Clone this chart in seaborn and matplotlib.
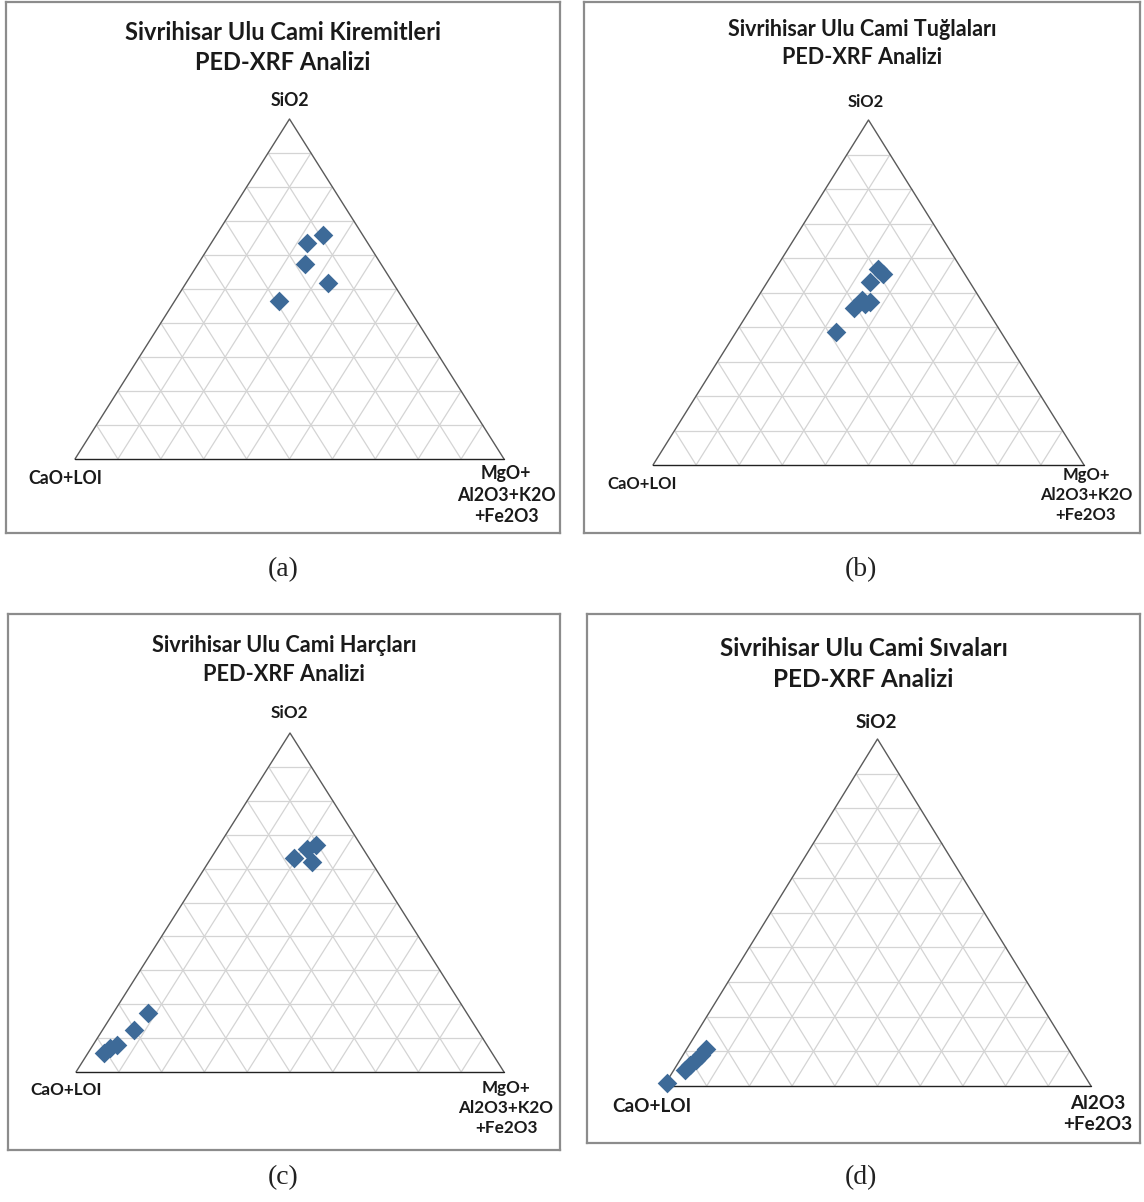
import matplotlib
matplotlib.use("Agg")
import matplotlib.pyplot as plt
import pandas as pd
import seaborn as sns

sns.set_style("white")
plt.rcParams['font.family'] = ['Lato', 'DejaVu Sans']

W, H = 1144, 1202

# values in percent (third component = 100 - others)
a_sio2 = [65.8, 63.4, 57.5, 51.9, 46.6]
a_mgo = [24.8, 22.4, 24.9, 33.0, 24.3]

b_sio2 = [56.8, 55.3, 53.0, 47.8, 47.3, 46.8, 45.6, 38.5]
b_mgo = [23.8, 25.6, 23.8, 24.5, 26.8, 25.8, 23.9, 23.1]

c_sio2 = [67.0, 65.8, 63.2, 61.9, 17.3, 12.4, 8.1, 7.0, 5.7]
c_mgo = [22.6, 21.1, 19.4, 24.1, 8.2, 7.3, 5.6, 4.4, 3.8]

d_sio2 = [1.0, 4.6, 6.1, 7.6, 9.0, 10.7]
d_al2o3 = [0.2, 2.6, 3.1, 3.6, 4.1, 4.5]

titles = ["Sivrihisar Ulu Cami Kiremitleri", "Sivrihisar Ulu Cami Tuğlaları",
          "Sivrihisar Ulu Cami Harçları", "Sivrihisar Ulu Cami Sıvaları"]
right_labels = ["MgO+\nAl2O3+K2O\n+Fe2O3", "MgO+\nAl2O3+K2O\n+Fe2O3",
                "MgO+\nAl2O3+K2O\n+Fe2O3", "Al2O3\n+Fe2O3"]
captions = ["(a)", "(b)", "(c)", "(d)"]

# panel layout in pixels: box (x0, y0, x1, y1), triangle (left, right, base y, apex y)
panels = [
    dict(box=(6, 2, 560, 533), tri=(75, 504, 459, 119), title_y=(32, 62), tsize=17, lsize=12.8,
         top=(290, 100), left=(65, 478), right=(506, 495), cap=(283, 570)),
    dict(box=(584, 2, 1140, 533), tri=(653, 1084, 465, 120), title_y=(30, 57), tsize=15.5, lsize=12,
         top=(866, 102), left=(642, 484), right=(1086, 495), cap=(861, 570)),
    dict(box=(8, 614, 560, 1150), tri=(76, 504, 1072, 733), title_y=(646, 675), tsize=15.7, lsize=12.3,
         top=(289, 713), left=(66, 1090), right=(506, 1108), cap=(283, 1178)),
    dict(box=(587, 614, 1140, 1143), tri=(664, 1091, 1086, 739), title_y=(648, 679), tsize=17.5, lsize=13.6,
         top=(876, 722), left=(652, 1106), right=(1098, 1114), cap=(861, 1178)),
]

frames = []
for name, s, r in [("a", a_sio2, a_mgo), ("b", b_sio2, b_mgo),
                   ("c", c_sio2, c_mgo), ("d", d_sio2, d_al2o3)]:
    df = pd.DataFrame({"sio2": s, "right": r})
    df["cao"] = 100 - df["sio2"] - df["right"]
    # ternary -> cartesian (base width 1, height 1)
    df["x"] = (df["right"] + df["sio2"] / 2) / 100
    df["y"] = df["sio2"] / 100
    frames.append(df)

fig = plt.figure(figsize=(W / 100, H / 100), dpi=100)


def fx(x):
    return x / W


def fy(y):
    return 1 - y / H


for p, df, title, rlab, cap in zip(panels, frames, titles, right_labels, captions):
    bx0, by0, bx1, by1 = p["box"]
    tl, tr, tb, ta = p["tri"]
    ax = fig.add_axes([fx(bx0), fy(by1), (bx1 - bx0) / W, (by1 - by0) / H])
    tw, th = tr - tl, tb - ta
    ax.set_xlim((bx0 - tl) / tw, (bx1 - tl) / tw)
    ax.set_ylim((tb - by1) / th, (tb - by0) / th)
    ax.set_xticks([])
    ax.set_yticks([])
    for sp in ax.spines.values():
        sp.set_color("#8c8c8c")
        sp.set_linewidth(1.6)

    # grid
    for i in range(1, 10):
        f = i / 10
        ax.plot([f / 2, 1 - f / 2], [f, f], color="#d4d4d4", lw=0.9, zorder=1)
        ax.plot([f, f / 2 + 0.5], [0, 1 - f], color="#d4d4d4", lw=0.9, zorder=1)
        ax.plot([f, f / 2], [0, f], color="#d4d4d4", lw=0.9, zorder=1)
    ax.plot([0, 0.5, 1], [0, 1, 0], color="#5a5a5a", lw=1.0, zorder=2)
    ax.plot([0, 1], [0, 0], color="#222222", lw=1.0, zorder=2)

    sns.scatterplot(data=df, x="x", y="y", ax=ax, marker="D", s=100,
                    color="#3d6a98", linewidth=0, zorder=3, legend=False)
    ax.set_xlabel("")
    ax.set_ylabel("")

    cx = (bx0 + bx1) / 2
    fig.text(fx(cx), fy(p["title_y"][0]), title, ha="center", va="center",
             fontsize=p["tsize"], fontweight="bold", color="#1a1a1a")
    fig.text(fx(cx), fy(p["title_y"][1]), "PED-XRF Analizi", ha="center", va="center",
             fontsize=p["tsize"], fontweight="bold", color="#1a1a1a")
    fig.text(fx(p["top"][0]), fy(p["top"][1]), "SiO2", ha="center", va="center",
             fontsize=p["lsize"], fontweight="bold", color="#1a1a1a")
    fig.text(fx(p["left"][0]), fy(p["left"][1]), "CaO+LOI", ha="center", va="center",
             fontsize=p["lsize"], fontweight="bold", color="#1a1a1a")
    fig.text(fx(p["right"][0]), fy(p["right"][1]), rlab, ha="center", va="center",
             fontsize=p["lsize"], fontweight="bold", color="#1a1a1a", linespacing=1.3)
    fig.text(fx(p["cap"][0]), fy(p["cap"][1]), cap, ha="center", va="center",
             fontsize=20, family="Liberation Serif", color="#222222")

fig.savefig("out.png", dpi=100, facecolor="white")
